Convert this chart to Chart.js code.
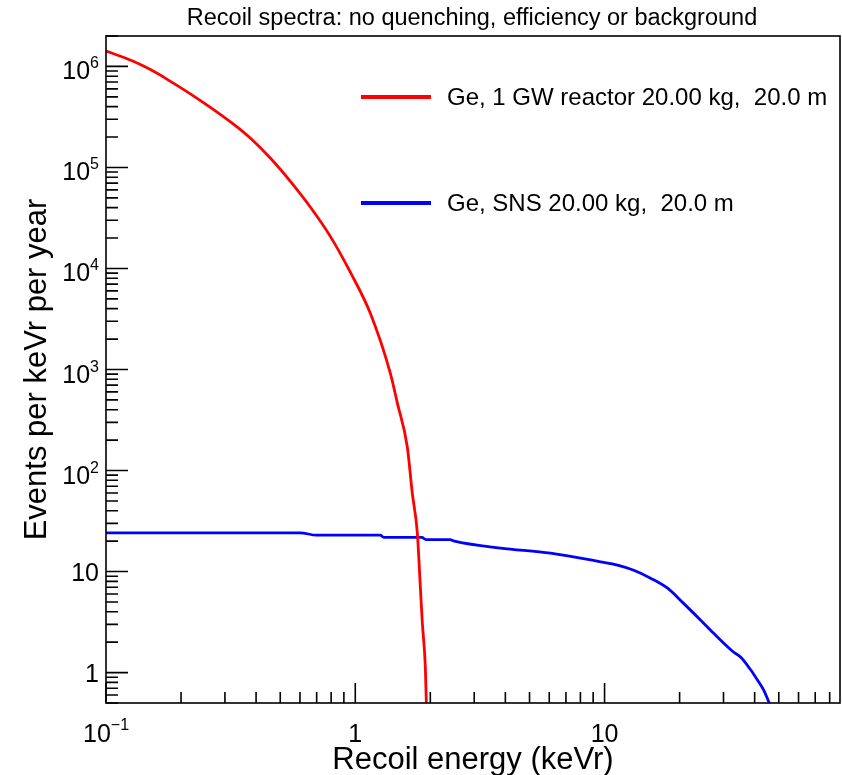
<!DOCTYPE html>
<html>
<head>
<meta charset="utf-8">
<script src="https://cdn.jsdelivr.net/npm/chart.js@4/dist/chart.umd.min.js"></script>
<style>
html,body{margin:0;padding:0;background:#fff;}
canvas{display:block;}
</style>
</head>
<body>
<canvas id="c" width="842" height="775"></canvas>
<script>
// ---- data ----
const chartTitle = "Recoil spectra: no quenching, efficiency or background";
const xTitle = "Recoil energy (keVr)";
const yTitle = "Events per keVr per year";

const reactorLabel = "Ge, 1 GW reactor 20.00 kg,  20.0 m";
const reactorE = [0.1, 0.128, 0.150, 0.176, 0.2385, 0.3236, 0.379, 0.456, 0.548, 0.66, 0.793, 0.955, 1.149, 1.382, 1.475, 1.617, 1.693, 1.774, 1.824, 1.858, 1.910, 1.935];
const reactorN = [1.42e6, 1.13e6, 9.35e5, 7.45e5, 4.62e5, 2.70e5, 1.955e5, 1.24e5, 7.33e4, 4.06e4, 2.09e4, 9.2e3, 3.6e3, 920, 465, 171, 59.7, 24, 7.0, 3.08, 1.13, 0.35];

const snsLabel = "Ge, SNS 20.00 kg,  20.0 m";
const snsE = [0.1, 0.6, 0.7, 1.26, 1.30, 1.85, 1.92, 2.4, 2.5, 3.82, 6.07, 9.64, 11.27, 13.1, 15.3, 17.9, 20.7, 24.3, 27.4, 33.0, 35.2, 38.6, 41.1, 43.5, 45.6, 46.5];
const snsN = [24.2, 24.2, 22.9, 22.9, 21.8, 21.8, 20.7, 20.7, 20.0, 17.1, 15.2, 12.5, 11.6, 10.3, 8.6, 6.85, 4.87, 3.30, 2.45, 1.59, 1.42, 1.06, 0.84, 0.67, 0.51, 0.45];

const xMin = 0.1, xMax = 88;
const yMin = 0.5, yMax = 2e6;
const xMajor = [0.1, 1, 10];
const xMajorLabels = [["10", "\u22121"], ["1", ""], ["10", ""]];
const xMinor = [0.2,0.3,0.4,0.5,0.6,0.7,0.8,0.9, 2,3,4,5,6,7,8,9, 20,30,40,50,60,70,80];
const yMajor = [1, 10, 100, 1e3, 1e4, 1e5, 1e6];
const yMajorLabels = [["1",""],["10",""],["10","2"],["10","3"],["10","4"],["10","5"],["10","6"]];
const yMinor = [0.5,0.6,0.7,0.8,0.9, 2,3,4,5,6,7,8,9, 20,30,40,50,60,70,80,90,
  200,300,400,500,600,700,800,900, 2e3,3e3,4e3,5e3,6e3,7e3,8e3,9e3,
  2e4,3e4,4e4,5e4,6e4,7e4,8e4,9e4, 2e5,3e5,4e5,5e5,6e5,7e5,8e5,9e5, 2e6];

const RED = "#ff0000", BLUE = "#0000ff";
const FONT = "'Liberation Sans', Arial, Helvetica, sans-serif";

function pts(xs, ys){ return xs.map((x,i)=>({x:x, y:ys[i]})); }

const decor = {
  id: 'decor',
  afterDraw(chart){
    const ctx = chart.ctx, a = chart.chartArea;
    const xs = chart.scales.x, ys = chart.scales.y;
    ctx.save();
    ctx.strokeStyle = "#000"; ctx.fillStyle = "#000";
    ctx.lineWidth = 1.6;
    // frame
    ctx.strokeRect(a.left, a.top, a.right - a.left, a.bottom - a.top);
    // x ticks (inward from bottom)
    ctx.beginPath();
    xMajor.forEach(v=>{ const p = xs.getPixelForValue(v); ctx.moveTo(p, a.bottom); ctx.lineTo(p, a.bottom-20); });
    xMinor.forEach(v=>{ const p = xs.getPixelForValue(v); ctx.moveTo(p, a.bottom); ctx.lineTo(p, a.bottom-11); });
    // y ticks (inward from left)
    yMajor.forEach(v=>{ const p = ys.getPixelForValue(v); ctx.moveTo(a.left, p); ctx.lineTo(a.left+22, p); });
    yMinor.forEach(v=>{ const p = ys.getPixelForValue(v); if(p>=a.top && p<=a.bottom){ ctx.moveTo(a.left, p); ctx.lineTo(a.left+12, p);} });
    ctx.stroke();

    const baseF = "25px " + FONT, supF = "16px " + FONT;
    ctx.textBaseline = "alphabetic";
    // x labels
    xMajor.forEach((v,i)=>{
      const p = xs.getPixelForValue(v);
      const [b, s] = xMajorLabels[i];
      ctx.font = baseF; const wb = ctx.measureText(b).width;
      ctx.font = supF; const ws = s ? ctx.measureText(s).width : 0;
      const x0 = p - (wb + ws)/2;
      const base = 742;
      ctx.font = baseF; ctx.textAlign = "left"; ctx.fillText(b, x0, base);
      if (s){ ctx.font = supF; ctx.fillText(s, x0 + wb, base - 12); }
    });
    // y labels
    yMajor.forEach((v,i)=>{
      const p = ys.getPixelForValue(v);
      const [b, s] = yMajorLabels[i];
      ctx.font = supF; const ws = s ? ctx.measureText(s).width : 0;
      const right = 99;
      ctx.textAlign = "right";
      if (s){
        const base = p + 13;
        ctx.font = supF; ctx.fillText(s, right, base - 11);
        ctx.font = baseF; ctx.fillText(b, right - ws, base);
      } else {
        ctx.font = baseF; ctx.fillText(b, right, p + 9);
      }
    });
    // axis titles
    ctx.font = "31px " + FONT; ctx.textAlign = "center";
    ctx.fillText(xTitle, (a.left + a.right)/2, 769);
    ctx.save();
    ctx.translate(46, (a.top + a.bottom)/2);
    ctx.rotate(-Math.PI/2);
    ctx.fillText(yTitle, 0, 0);
    ctx.restore();
    // title
    ctx.font = "23.5px " + FONT; ctx.textAlign = "center";
    ctx.fillText(chartTitle, 472, 25);
    // legend
    const leg = [[reactorLabel, RED, 97], [snsLabel, BLUE, 203]];
    ctx.textAlign = "left"; ctx.font = "24px " + FONT;
    leg.forEach(([t, c, y])=>{
      ctx.strokeStyle = c; ctx.lineWidth = 4;
      ctx.beginPath(); ctx.moveTo(361, y); ctx.lineTo(431, y); ctx.stroke();
      ctx.fillStyle = "#000"; ctx.fillText(t, 447, y + 8);
    });
    ctx.restore();
  }
};

new Chart(document.getElementById('c'), {
  type: 'line',
  data: {
    datasets: [
      { label: reactorLabel, data: pts(reactorE, reactorN), borderColor: RED, borderWidth: 2.8, pointRadius: 0, cubicInterpolationMode: 'monotone', fill: false },
      { label: snsLabel, data: pts(snsE, snsN), borderColor: BLUE, borderWidth: 2.8, pointRadius: 0, cubicInterpolationMode: 'monotone', fill: false }
    ]
  },
  options: {
    responsive: false,
    animation: false,
    devicePixelRatio: 1,
    layout: { padding: { left: 106, right: 2, top: 36, bottom: 72 } },
    plugins: { legend: { display: false }, title: { display: false }, tooltip: { enabled: false } },
    scales: {
      x: { type: 'logarithmic', min: xMin, max: xMax, display: false },
      y: { type: 'logarithmic', min: yMin, max: yMax, display: false }
    }
  },
  plugins: [decor]
});
</script>
</body>
</html>
